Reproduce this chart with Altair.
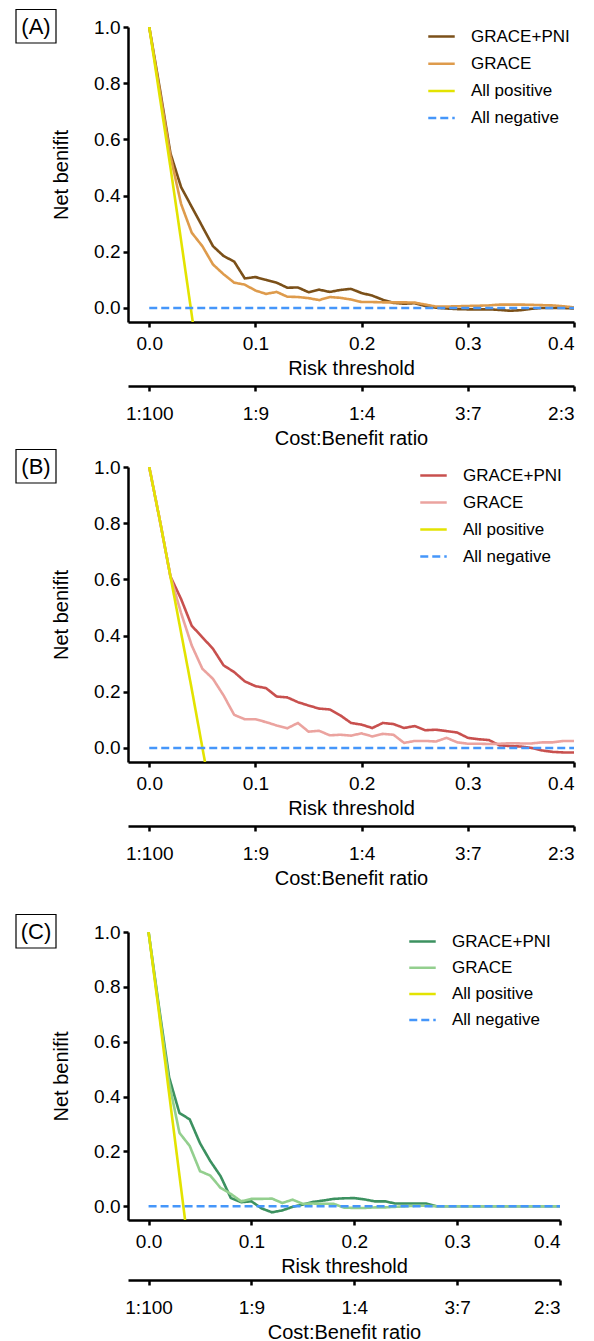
import altair as alt
import pandas as pd

FONT = "Liberation Sans"

THRESH = [0.00, 0.01, 0.02, 0.03, 0.04, 0.05, 0.06, 0.07, 0.08, 0.09,
          0.10, 0.11, 0.12, 0.13, 0.14, 0.15, 0.16, 0.17, 0.18, 0.19,
          0.20, 0.21, 0.22, 0.23, 0.24, 0.25, 0.26, 0.27, 0.28, 0.29,
          0.30, 0.31, 0.32, 0.33, 0.34, 0.35, 0.36, 0.37, 0.38, 0.39, 0.40]

SERIES = ["GRACE+PNI", "GRACE", "All positive", "All negative"]
PANEL_LABELS = ["(A)", "(B)", "(C)"]
X_TICKS = [0.0, 0.1, 0.2, 0.3, 0.4]
Y_TICKS = [0.0, 0.2, 0.4, 0.6, 0.8, 1.0]
RATIO_LABELS = ["1:100", "1:9", "1:4", "3:7", "2:3"]

# Panel A
A_PNI = [1.0, 0.78, 0.55, 0.43, 0.36, 0.29, 0.22, 0.185, 0.165, 0.105,
         0.11, 0.10, 0.09, 0.072, 0.073, 0.056, 0.065, 0.057, 0.064, 0.068,
         0.053, 0.044, 0.029, 0.018, 0.015, 0.017, 0.007, 0.001, -0.002, -0.004,
         -0.005, -0.005, -0.005, -0.007, -0.010, -0.008, -0.003, 0.0, 0.0, 0.0, -0.002]
A_GRACE = [1.0, 0.77, 0.54, 0.37, 0.268, 0.22, 0.155, 0.12, 0.09, 0.083,
           0.062, 0.05, 0.057, 0.04, 0.039, 0.035, 0.028, 0.039, 0.036, 0.03,
           0.021, 0.021, 0.02, 0.02, 0.02, 0.019, 0.012, 0.005, 0.005, 0.006,
           0.007, 0.008, 0.009, 0.012, 0.012, 0.012, 0.011, 0.01, 0.009, 0.006, 0.002]
A_POS_T = [0.0, 0.01, 0.02, 0.03, 0.041]
A_POS_V = [1.0, 0.75, 0.50, 0.24, -0.05]

# Panel B
B_PNI = [1.0, 0.81, 0.61, 0.53, 0.435, 0.394, 0.353, 0.294, 0.27, 0.237,
         0.22, 0.213, 0.183, 0.18, 0.163, 0.151, 0.14, 0.137, 0.116, 0.089,
         0.083, 0.071, 0.089, 0.085, 0.071, 0.078, 0.063, 0.065, 0.06, 0.055,
         0.036, 0.031, 0.028, 0.009, 0.007, 0.005, 0.0, -0.009, -0.014, -0.016, -0.016]
B_GRACE = [1.0, 0.81, 0.61, 0.48, 0.365, 0.282, 0.246, 0.187, 0.118, 0.102,
           0.102, 0.092, 0.08, 0.07, 0.089, 0.058, 0.061, 0.045, 0.047, 0.044,
           0.052, 0.041, 0.05, 0.047, 0.018, 0.025, 0.025, 0.023, 0.036, 0.02,
           0.015, 0.015, 0.014, 0.015, 0.017, 0.016, 0.016, 0.02, 0.02, 0.025, 0.025]
B_POS_T = [0.0, 0.01, 0.02, 0.03, 0.04, 0.0525]
B_POS_V = [1.0, 0.81, 0.61, 0.41, 0.21, -0.05]

# Panel C
C_PNI = [1.0, 0.73, 0.47, 0.34, 0.317, 0.23, 0.165, 0.11, 0.03, 0.015,
         0.018, -0.008, -0.022, -0.015, -0.002, 0.006, 0.016, 0.021, 0.027, 0.029,
         0.03, 0.025, 0.018, 0.018, 0.01, 0.01, 0.01, 0.01, 0.0, 0.0,
         0.0, 0.0, 0.0, 0.0, 0.0, 0.0, 0.0, 0.0, 0.0, 0.0, 0.0]
C_GRACE = [1.0, 0.72, 0.45, 0.268, 0.22, 0.128, 0.112, 0.067, 0.045, 0.018,
           0.027, 0.027, 0.028, 0.012, 0.024, 0.009, 0.01, 0.009, 0.009, -0.005,
           -0.006, -0.006, -0.004, -0.004, -0.002, 0.0, 0.002, 0.002, 0.0, 0.0,
           0.0, 0.0, 0.0, 0.0, 0.0, 0.0, 0.0, 0.0, 0.0, 0.0, 0.0]
C_POS_T = [0.0, 0.01, 0.02, 0.0355]
C_POS_V = [1.0, 0.71, 0.41, -0.05]

NEG_T = [0.0, 0.4]
NEG_V = [0.0, 0.0]

COLORS_A = ["#7b5019", "#de9b4c", "#e3e300", "#4596fa"]
COLORS_B = ["#c8504e", "#eba39f", "#e3e300", "#4596fa"]
COLORS_C = ["#3c9160", "#93cf8e", "#e3e300", "#4596fa"]

ratio_expr = " : ".join(
    f"abs(datum.value - {v}) < 0.001 ? '{lab}'" for v, lab in zip(X_TICKS, RATIO_LABELS)
) + " : ''"


def make_panel(label, pni, grace, pos_t, pos_v, colors, w, h, lx, ly, sec_off, row_pad):
    rows = []
    for t, v in zip(THRESH, pni):
        rows.append({"t": t, "v": v, "series": SERIES[0]})
    for t, v in zip(THRESH, grace):
        rows.append({"t": t, "v": v, "series": SERIES[1]})
    for t, v in zip(pos_t, pos_v):
        rows.append({"t": t, "v": v, "series": SERIES[2]})
    for t, v in zip(NEG_T, NEG_V):
        rows.append({"t": t, "v": v, "series": SERIES[3]})
    df = pd.DataFrame(rows)

    xscale = alt.Scale(domain=[-0.02, 0.4], nice=False, zero=False)
    leg = alt.Legend(title=None, orient="none", legendX=lx, legendY=ly,
                     symbolType="stroke", symbolSize=700, symbolStrokeWidth=2.5,
                     labelFontSize=17, labelFont=FONT, labelColor="black",
                     labelOffset=15, rowPadding=row_pad, padding=0)
    lines = alt.Chart(df).mark_line(strokeWidth=2.6, clip=True).encode(
        x=alt.X("t:Q", scale=xscale,
                axis=alt.Axis(orient="bottom", title="Risk threshold", values=X_TICKS,
                              format=".1f", labelPadding=7, titlePadding=5)),
        y=alt.Y("v:Q", scale=alt.Scale(domain=[-0.05, 1.0], nice=False, zero=False),
                axis=alt.Axis(title="Net benifit", values=Y_TICKS, format=".1f",
                              labelPadding=3, titlePadding=22)),
        color=alt.Color("series:N", scale=alt.Scale(domain=SERIES, range=colors), legend=leg),
        strokeDash=alt.StrokeDash("series:N",
                                  scale=alt.Scale(domain=SERIES,
                                                  range=[[1, 0], [1, 0], [1, 0], [8, 4]]),
                                  legend=leg),
    )
    sec = alt.Chart(pd.DataFrame({"t": X_TICKS})).mark_point(opacity=0).encode(
        x=alt.X("t:Q", scale=xscale,
                axis=alt.Axis(orient="bottom", offset=sec_off, title="Cost:Benefit ratio",
                              values=X_TICKS, labelExpr=ratio_expr,
                              labelPadding=13, titlePadding=5)),
        y=alt.value(0),
    )
    lab_df = pd.DataFrame({"label": [label]})
    box = alt.Chart(lab_df).mark_rect(fillOpacity=0, stroke="black", strokeWidth=1.2).encode(
        x=alt.value(-112), x2=alt.value(-72), y=alt.value(-17.5), y2=alt.value(16)
    )
    txt = alt.Chart(lab_df).mark_text(fontSize=22, font=FONT, align="center",
                                      baseline="middle", color="black").encode(
        text="label:N", x=alt.value(-92), y=alt.value(-0.5)
    )
    return alt.layer(lines, sec, box, txt).resolve_axis(x="independent").properties(
        width=w, height=h)


pa = make_panel(PANEL_LABELS[0], A_PNI, A_GRACE, A_POS_T, A_POS_V, COLORS_A, 446, 295, 299, -5, 64, 4.2)
pb = make_panel(PANEL_LABELS[1], B_PNI, B_GRACE, B_POS_T, B_POS_V, COLORS_B, 446, 295, 291, -6, 64, 4.0)
pc = make_panel(PANEL_LABELS[2], C_PNI, C_GRACE, C_POS_T, C_POS_V, COLORS_C, 432, 288, 280, -5, 60, 3.2)

top = alt.vconcat(pa, pb, spacing=0).resolve_scale(
    color="independent", strokeDash="independent"
).resolve_legend(color="independent", strokeDash="independent")

chart = alt.vconcat(top, pc, spacing=25).resolve_scale(
    color="independent", strokeDash="independent"
).resolve_legend(color="independent", strokeDash="independent").properties(
    padding={"left": 7, "top": 0, "right": 5, "bottom": 0}
).configure_axis(
    domainColor="black", domainWidth=2.5, tickColor="black", tickWidth=2.5, tickSize=5,
    labelFont=FONT, titleFont=FONT, labelFontSize=19, titleFontSize=20,
    labelColor="black", titleColor="black", grid=False, titleFontWeight="normal"
).configure_view(strokeWidth=0)

chart.save("out.html", embed_options={"renderer": "svg", "actions": False})
